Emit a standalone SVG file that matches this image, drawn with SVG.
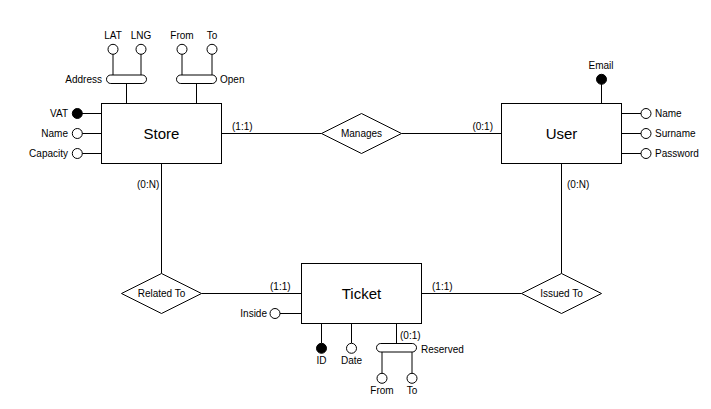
<svg xmlns="http://www.w3.org/2000/svg" width="711" height="409" viewBox="0 0 711 409">
<style>
.s{fill:#fff;stroke:#000;stroke-width:1}
.f{fill:#000;stroke:#000;stroke-width:1}
.l{fill:none;stroke:#000;stroke-width:1}
text{font-family:"Liberation Sans",Arial,sans-serif;font-size:10px;fill:#000}
.e{font-size:15px}
.m{text-anchor:middle}
.r{text-anchor:end}
</style>
<rect width="711" height="409" fill="#fff"/>
<g id="connectors">
<path class="l" d="M221.5 133.5H321.5M401.5 133.5H501.5"/>
<path class="l" d="M161.5 163.5V273.5M201.5 293.5H301.5"/>
<path class="l" d="M561.5 163.5V273.5M421.5 293.5H521.5"/>
<path class="l" d="M126.5 83.5V103.5M113 54V75M141 54V75"/>
<path class="l" d="M196.5 83.5V103.5M182 54V75M212 54V75"/>
<path class="l" d="M82 113.5H101.5M82 133.5H101.5M82 153.5H101.5"/>
<path class="l" d="M601.5 84V103.5M621.5 113.5H641M621.5 133.5H641M621.5 153.5H641"/>
<path class="l" d="M280 313.5H301.5M321.5 323.5V343M351.5 323.5V343M396.5 323.5V343.5M382 351.5V373M412 351.5V373"/>
</g>
<g id="store">
<rect class="s" x="101.5" y="103.5" width="120" height="60"/>
<text class="e m" x="161.5" y="138.5">Store</text>
</g>
<g id="store-address">
<rect class="s" x="106.5" y="75" width="40" height="8.5" rx="4.25"/>
<text class="r" x="102" y="82.5">Address</text>
</g>
<g id="store-address-lat"><circle class="s" cx="113" cy="49.3" r="5"/><text class="m" x="113" y="39">LAT</text></g>
<g id="store-address-lng"><circle class="s" cx="141" cy="49.3" r="5"/><text class="m" x="141" y="39">LNG</text></g>
<g id="store-open">
<rect class="s" x="176.5" y="75" width="40" height="8.5" rx="4.25"/>
<text x="220" y="82.5">Open</text>
</g>
<g id="store-open-from"><circle class="s" cx="182" cy="49.3" r="5"/><text class="m" x="182" y="39">From</text></g>
<g id="store-open-to"><circle class="s" cx="212" cy="49.3" r="5"/><text class="m" x="212" y="39">To</text></g>
<g id="store-vat"><circle class="f" cx="77.3" cy="113.5" r="5"/><text class="r" x="68" y="117">VAT</text></g>
<g id="store-name"><circle class="s" cx="77.3" cy="133.5" r="5"/><text class="r" x="68" y="137">Name</text></g>
<g id="store-capacity"><circle class="s" cx="77.3" cy="153.5" r="5"/><text class="r" x="68" y="157">Capacity</text></g>
<g id="manages">
<polygon class="s" points="321.5,133.5 361.5,113.5 401.5,133.5 361.5,153.5"/>
<text class="m" x="361.5" y="137">Manages</text>
</g>
<g id="user">
<rect class="s" x="501.5" y="103.5" width="120" height="60"/>
<text class="e m" x="561.5" y="138.5">User</text>
</g>
<g id="user-email"><circle class="f" cx="601.5" cy="79.3" r="5"/><text class="m" x="601" y="69">Email</text></g>
<g id="user-name"><circle class="s" cx="646" cy="113.5" r="5"/><text x="655" y="117">Name</text></g>
<g id="user-surname"><circle class="s" cx="646" cy="133.5" r="5"/><text x="655" y="137">Surname</text></g>
<g id="user-password"><circle class="s" cx="646" cy="153.5" r="5"/><text x="655" y="157">Password</text></g>
<g id="related-to">
<polygon class="s" points="121.5,293.5 161.5,273.5 201.5,293.5 161.5,313.5"/>
<text class="m" x="161.5" y="297">Related To</text>
</g>
<g id="issued-to">
<polygon class="s" points="521.5,293.5 561.5,273.5 601.5,293.5 561.5,313.5"/>
<text class="m" x="561.5" y="297">Issued To</text>
</g>
<g id="ticket">
<rect class="s" x="301.5" y="263.5" width="120" height="60"/>
<text class="e m" x="361.5" y="298.5">Ticket</text>
</g>
<g id="ticket-inside"><circle class="s" cx="275" cy="313.5" r="5"/><text class="r" x="267" y="317">Inside</text></g>
<g id="ticket-id"><circle class="f" cx="321.5" cy="348.3" r="5"/><text class="m" x="321.5" y="363.5">ID</text></g>
<g id="ticket-date"><circle class="s" cx="351.5" cy="348.3" r="5"/><text class="m" x="351.5" y="363.5">Date</text></g>
<g id="ticket-reserved">
<rect class="s" x="376.5" y="343.5" width="40" height="8.5" rx="4.25"/>
<text x="421" y="352.5">Reserved</text>
</g>
<g id="ticket-reserved-from"><circle class="s" cx="382" cy="378.3" r="5"/><text class="m" x="382" y="393.5">From</text></g>
<g id="ticket-reserved-to"><circle class="s" cx="412" cy="378.3" r="5"/><text class="m" x="412" y="393.5">To</text></g>
<g id="cardinalities">
<text x="232" y="130">(1:1)</text>
<text class="r" x="493" y="130">(0:1)</text>
<text x="137" y="187.5">(0:N)</text>
<text x="567" y="187.5">(0:N)</text>
<text x="270" y="290">(1:1)</text>
<text x="432" y="290">(1:1)</text>
<text x="400" y="338.5">(0:1)</text>
</g>
</svg>
